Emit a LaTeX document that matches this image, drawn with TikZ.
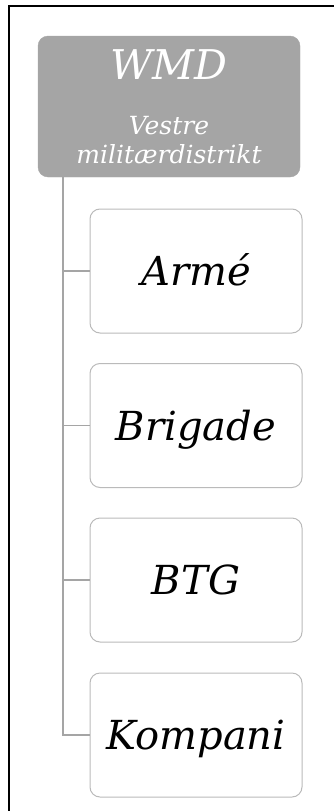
\documentclass[tikz,border=0pt]{standalone}
\usepackage{fontspec}
\setmainfont{DejaVu Serif}
\definecolor{headfill}{HTML}{A5A5A5}
\definecolor{boxline}{HTML}{BABABA}
\definecolor{linkgray}{HTML}{A5A5A5}
\begin{document}
\begin{tikzpicture}[x=1pt,y=-1pt,
  rootbox/.style={fill=headfill, draw=headfill, rounded corners=10pt,
    minimum width=262pt, minimum height=141pt, inner sep=0pt},
  headtext/.style={text=white, inner sep=0pt, anchor=base},
  unitbox/.style={draw=boxline, line width=1pt, rounded corners=10pt, fill=white,
    minimum width=212pt, minimum height=124pt, inner sep=0pt,
    font=\fontsize{40}{48}\selectfont\itshape, text height=29.2pt, text depth=0pt},
  link/.style={draw=linkgray, line width=1.4pt}]
\useasboundingbox (0,0) rectangle (334,811);
% page frame (top and left edges)
\draw[line width=2pt] (9,811) -- (9,6) -- (334,6);

% head of the hierarchy
\node[rootbox] (wmd) at (169,106.5) {};
\node[headtext, font=\fontsize{41}{48}\selectfont\itshape] (wmdname) at (169,79) {WMD};
\node[headtext, font=\fontsize{25}{30}\selectfont\itshape] (wmdline1) at (169,134) {Vestre};
\node[headtext, font=\fontsize{25}{30}\selectfont\itshape] (wmdline2) at (169,163) {militærdistrikt};

% subordinate units
\node[unitbox] (arme) at (196,271) {Armé};
\node[unitbox] (brigade) at (196,425.5) {Brigade};
\node[unitbox] (btg) at (196,580) {BTG};
\node[unitbox] (kompani) at (196,735) {Kompani};

% trunk line and branches
\coordinate (trunk) at ([xshift=25pt]wmd.south west);
\draw[link] (trunk) |- (arme.west);
\draw[link] (trunk) |- (brigade.west);
\draw[link] (trunk) |- (btg.west);
\draw[link] (trunk) |- (kompani.west);
\end{tikzpicture}
\end{document}
